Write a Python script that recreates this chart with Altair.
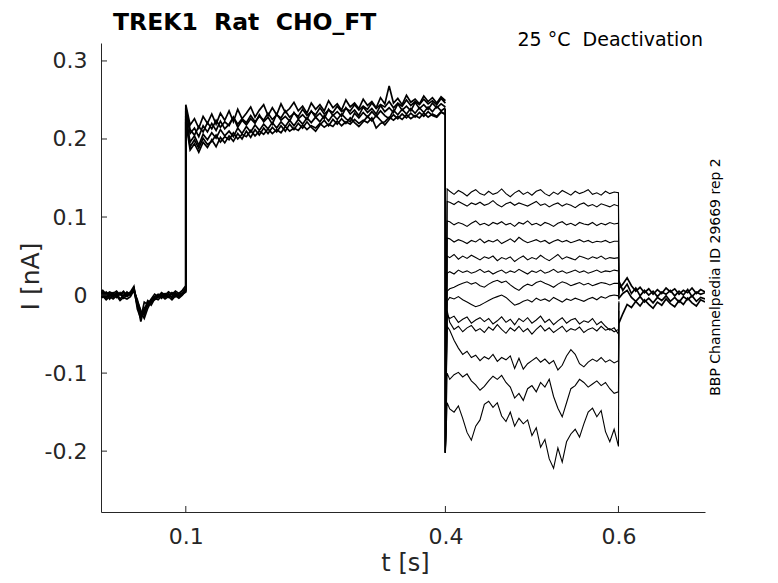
import altair as alt
import pandas as pd

# ---------------- data (current in pA, converted to nA below) ----------------
T_PRE = [round(0.004 * k, 4) for k in range(26)]            # 0 .. 0.1
T_ACT = [round(0.1 + 0.005 * k, 4) for k in range(61)]      # 0.1 .. 0.4
T_DEACT = [round(0.405 + 0.005 * k, 4) for k in range(39)]  # 0.405 .. 0.595
T_POST = [0.6005] + [round(0.605 + 0.005 * k, 4) for k in range(20)]  # .. 0.7

PRE = [
    [3, 6, 1, 4, 2, 5, 0, 3, 1, 4, 11, -18, -30, -9, -12, -5, 1, -2, 3, 0, 4, 1, 5, 2, 6, 12],
    [-4, -1, -6, -2, -5, -1, -7, -3, -5, -2, 6, -14, -25, -20, -7, -10, -4, -6, -1, -5, -2, -6, -1, -4, 0, 6],
    [0, -3, 2, -5, 1, -2, 3, -4, 0, 2, 9, -10, -34, -16, -14, -6, -2, 0, -4, 1, -3, 2, -2, 1, 3, 9],
    [1, 4, -2, 2, -1, 3, 1, 5, -1, 3, 7, -8, -20, -26, -11, -7, -3, 1, -1, 2, -2, 3, 0, 2, 1, 4],
    [2, -2, 4, 0, 3, -3, 2, -1, 4, 0, 8, -12, -28, -22, -9, -13, -5, -1, 2, -3, 1, -2, 3, -1, 2, 7],
    [-2, 2, -4, 1, -3, 2, -5, 0, -2, 1, 5, -6, -22, -30, -17, -8, -6, -3, 0, -2, 2, -4, 1, -3, 2, 5],
]

ACT = [
    [244, 218, 226, 214, 229, 220, 232, 219, 233, 224, 236, 222, 238, 226, 233, 241, 228, 237, 244, 230,
     240, 231, 245, 234, 239, 247, 236, 242, 233, 246, 238, 244, 236, 249, 240, 245, 237, 250, 241, 246,
     239, 251, 243, 248, 240, 253, 245, 268, 246, 252, 244, 256, 247, 251, 245, 255, 248, 253, 246, 254, 249],
    [236, 207, 214, 203, 217, 209, 220, 211, 223, 213, 219, 228, 215, 224, 218, 226, 220, 231, 222, 228,
     219, 232, 224, 229, 223, 234, 226, 231, 225, 236, 228, 233, 226, 238, 230, 235, 229, 240, 232, 237,
     230, 241, 234, 239, 232, 243, 235, 240, 234, 245, 237, 242, 236, 247, 239, 244, 238, 246, 240, 245, 241],
    [230, 196, 204, 192, 206, 199, 208, 201, 212, 204, 210, 203, 214, 207, 216, 209, 218, 211, 219, 213,
     221, 214, 222, 216, 224, 217, 225, 219, 227, 221, 228, 222, 230, 223, 231, 225, 232, 226, 222, 233,
     227, 234, 228, 235, 229, 236, 230, 226, 237, 231, 238, 232, 239, 233, 240, 234, 241, 235, 242, 236, 240],
    [222, 186, 194, 183, 196, 189, 199, 190, 202, 195, 204, 197, 207, 200, 210, 202, 212, 205, 214, 207,
     215, 209, 217, 210, 219, 212, 220, 214, 222, 215, 210, 218, 224, 217, 225, 219, 226, 220, 227, 221,
     216, 222, 229, 223, 230, 224, 218, 225, 231, 226, 232, 227, 233, 228, 234, 229, 235, 230, 228, 234, 232],
    [240, 212, 205, 216, 209, 221, 213, 224, 215, 222, 217, 228, 219, 226, 221, 230, 222, 229, 224, 233,
     225, 231, 227, 236, 228, 233, 229, 238, 230, 235, 231, 240, 232, 237, 234, 242, 235, 239, 236, 244,
     237, 242, 238, 246, 239, 244, 241, 248, 240, 246, 242, 250, 243, 248, 244, 251, 245, 249, 244, 252, 246],
    [226, 190, 199, 188, 201, 193, 197, 205, 196, 203, 199, 208, 200, 206, 203, 211, 204, 210, 206, 213,
     207, 212, 208, 216, 210, 214, 211, 218, 212, 217, 214, 220, 215, 219, 216, 223, 217, 222, 219, 225,
     220, 224, 221, 227, 214, 220, 222, 228, 224, 229, 225, 231, 226, 230, 227, 233, 228, 232, 229, 235, 231],
]

STEP_TOP = 238     # current just before the step to deactivation
STEP_SPIKE = -202  # capacitive spike at 0.4 s
DEACT_START = [136, 120, 95, 73, 50, 28, 5, -8, -25, -20, -40, -100, -138]
DEACT = [
    [133, 129, 134, 131, 127, 132, 135, 130, 128, 133, 129, 131, 136, 130, 126, 131, 134, 129, 132, 128,
     133, 135, 130, 127, 132, 129, 134, 131, 128, 133, 130, 132, 135, 129, 131, 128, 133, 130, 132],
    [119, 116, 120, 117, 114, 118, 116, 119, 115, 117, 121, 116, 113, 117, 119, 115, 118, 116, 114, 117,
     120, 115, 117, 113, 116, 118, 114, 117, 115, 112, 116, 118, 114, 116, 113, 117, 115, 113, 116],
    [94, 90, 93, 91, 88, 92, 95, 90, 92, 89, 93, 91, 94, 90, 92, 88, 93, 91, 95, 90,
     92, 89, 93, 91, 88, 92, 94, 90, 92, 89, 93, 91, 90, 93, 89, 92, 90, 93, 91],
    [72, 68, 71, 69, 66, 70, 68, 72, 67, 70, 68, 71, 66, 69, 72, 68, 74, 70, 67, 69,
     71, 68, 70, 66, 69, 71, 68, 70, 67, 69, 71, 68, 70, 67, 69, 68, 70, 67, 69],
    [48, 52, 46, 50, 47, 51, 48, 45, 49, 47, 50, 44, 48, 46, 49, 43, 47, 50, 45, 48,
     46, 51, 47, 44, 48, 52, 46, 49, 47, 45, 50, 48, 46, 49, 47, 50, 46, 48, 47],
    [30, 27, 32, 29, 31, 28, 30, 33, 29, 31, 27, 30, 32, 28, 31, 29, 33, 30, 27, 31,
     29, 32, 28, 30, 33, 29, 31, 28, 30, 32, 29, 31, 28, 30, 32, 29, 31, 30, 32],
    [8, 10, 13, 15, 17, 14, 16, 12, 10, 14, 17, 19, 16, 18, 13, 9, 6, 11, 14, 12,
     16, 18, 15, 13, 10, 14, 17, 15, 12, 14, 16, 13, 15, 12, 14, 16, 15, 13, 15],
    [-3, -5, -2, -6, -9, -12, -15, -13, -10, -7, -4, -2, 0, -3, -8, -13, -11, -8, -6, -9,
     -4, -7, -5, -8, -3, -6, -9, -5, -7, -4, -6, -8, -5, -3, -6, -2, -4, -1, 0],
    [-30, -27, -35, -31, -28, -36, -32, -29, -34, -30, -37, -33, -28, -35, -31, -38, -30, -34, -29, -36,
     -32, -27, -35, -31, -38, -33, -29, -36, -32, -30, -37, -33, -35, -30, -38, -34, -40, -45, -42],
    [-35, -44, -40, -47, -42, -39, -46, -43, -48, -41, -45, -38, -44, -49, -42, -46, -40, -47, -43, -50,
     -44, -39, -46, -42, -48, -44, -40, -47, -43, -45, -41, -48, -44, -42, -46, -40, -45, -43, -47],
    [-45, -58, -68, -76, -72, -80, -77, -84, -79, -82, -76, -85, -80, -83, -78, -94, -81, -95, -88, -84,
     -80, -86, -82, -88, -84, -96, -90, -78, -70, -76, -88, -92, -86, -82, -85, -80, -86, -83, -87],
    [-108, -102, -99, -105, -101, -110, -115, -122, -117, -110, -104, -108, -103, -112, -118, -132, -126, -135, -120, -116,
     -124, -112, -118, -108, -130, -145, -156, -138, -120, -116, -108, -112, -118, -114, -110, -116, -112, -120, -126],
    [-146, -150, -142, -158, -176, -186, -168, -160, -140, -136, -144, -138, -155, -162, -150, -168, -158, -165, -160, -180,
     -170, -195, -185, -210, -222, -196, -214, -188, -178, -172, -182, -165, -150, -145, -156, -148, -175, -188, -172],
]
DEACT_END = [131, 114, 92, 69, 48, 31, 15, -1, -50, -44, -84, -124, -194]
POST_START = [5, 3, 0, -2, 6, -4, 2, -6, -10, -8, -20, -30, -36]

POST = [
    [8, 14, 22, 12, 5, 10, 3, 8, 1, 7, 2, 9, 4, 8, 1, 6, 3, 9, 2, 7, 4],
    [-4, 2, 6, -3, -8, -2, -9, -4, -10, -3, -7, -1, -8, -3, -9, -2, -6, -1, -8, -3, -5],
    [-36, -24, -12, -16, -8, -14, -6, -12, -17, -9, -13, -5, -11, -15, -7, -12, -4, -10, -14, -6, -9],
    [18, 6, 14, 2, 9, -1, 6, 0, 5, -2, 4, 1, 6, -1, 5, 0, 7, -2, 4, 1, 3],
]

X_TICKS = [0.1, 0.4, 0.6]
Y_TICKS = [-0.2, -0.1, 0, 0.1, 0.2, 0.3]

TITLE = "TREK1\u00a0\u00a0Rat\u00a0\u00a0CHO_FT"
SUBTITLE = "25 °C\u00a0\u00a0Deactivation"
SIDE = "BBP Channelpedia ID 29669 rep 2"

# ---------------- build table ----------------
rows = []


def add(trace, group, ts, vs):
    for t, v in zip(ts, vs):
        rows.append({"trace": trace, "g": group, "t": t, "I": v / 1000.0, "i": len(rows)})


for k in range(len(PRE)):
    add(f"band{k}", "band", T_PRE + T_ACT, PRE[k] + ACT[k])
for k in range(len(DEACT)):
    ts = [0.4, 0.4, 0.402] + T_DEACT + [0.6, 0.6005]
    vs = [STEP_TOP, STEP_SPIKE, DEACT_START[k]] + DEACT[k] + [DEACT_END[k], POST_START[k]]
    add(f"deact{k}", "deact", ts, vs)
for k in range(len(POST)):
    add(f"post{k}", "band", T_POST, POST[k])

df = pd.DataFrame(rows)

W, H = 604, 469
AX = "#262626"
FONT = "DejaVu Sans"

xs = alt.Scale(domain=[0.002, 0.7], nice=False, zero=False)
ys = alt.Scale(domain=[-0.278, 0.323], nice=False, zero=False)

X_AXIS = alt.Axis(
    values=X_TICKS, title="t [s]", format=".1f", ticks=False, tickSize=0, grid=False,
    domainColor=AX, domainWidth=1, labelColor=AX, labelFont=FONT, labelFontSize=22,
    labelBaseline="alphabetic", labelPadding=31, labelFlush=False,
    titleColor=AX, titleFont=FONT, titleFontSize=24, titleFontWeight="normal",
    titleX=304, titleY=58, titleBaseline="alphabetic", titleAlign="center")
Y_AXIS = alt.Axis(
    values=Y_TICKS, title="I [nA]", ticks=False, tickSize=0, grid=False,
    labelExpr="datum.value == 0 ? '0' : (datum.value < 0 ? '-' + format(-datum.value, '.1f') : format(datum.value, '.1f'))",
    domainColor=AX, domainWidth=1, labelColor=AX, labelFont=FONT, labelFontSize=22,
    labelPadding=14, labelBaseline="middle", labelFlush=False,
    titleColor=AX, titleFont=FONT, titleFontSize=25, titleFontWeight="normal",
    titleX=-71, titleY=233, titleAngle=270, titleBaseline="middle", titleAlign="center")

base = alt.Chart(df)

deact_lines = base.transform_filter(alt.datum.g == "deact").mark_line(
    color="black", strokeWidth=1.1, clip=True
).encode(
    x=alt.X("t:Q", scale=xs, axis=X_AXIS),
    y=alt.Y("I:Q", scale=ys, axis=Y_AXIS),
    detail="trace:N",
    order="i:Q",
)

band_lines = base.transform_filter(alt.datum.g == "band").mark_line(
    color="black", strokeWidth=1.7, clip=True
).encode(
    x=alt.X("t:Q", scale=xs, axis=X_AXIS),
    y=alt.Y("I:Q", scale=ys, axis=Y_AXIS),
    detail="trace:N",
    order="i:Q",
)

ytick_df = pd.DataFrame({"I": Y_TICKS})
xtick_df = pd.DataFrame({"t": X_TICKS})

yticks = alt.Chart(ytick_df).mark_rule(color=AX, strokeWidth=1).encode(
    y=alt.Y("I:Q", scale=ys, axis=Y_AXIS), x=alt.value(0), x2=alt.value(6)
)
xticks = alt.Chart(xtick_df).mark_rule(color=AX, strokeWidth=1).encode(
    x=alt.X("t:Q", scale=xs, axis=X_AXIS), y=alt.value(H), y2=alt.value(H - 6)
)

title = alt.Chart(pd.DataFrame({"s": [TITLE]})).mark_text(
    font=FONT, fontSize=23.5, fontWeight="bold", color="black", align="left", baseline="alphabetic"
).encode(text="s:N", x=alt.value(12), y=alt.value(-13))

sub = alt.Chart(pd.DataFrame({"s": [SUBTITLE]})).mark_text(
    font=FONT, fontSize=19, color="black", align="right", baseline="alphabetic"
).encode(text="s:N", x=alt.value(602), y=alt.value(3))

side = alt.Chart(pd.DataFrame({"s": [SIDE]})).mark_text(
    font=FONT, fontSize=14, color="black", align="center", baseline="middle", angle=270
).encode(text="s:N", x=alt.value(615), y=alt.value(234))

chart = alt.layer(deact_lines, band_lines, yticks, xticks, title, sub, side).properties(
    width=W,
    height=H,
    autosize=alt.AutoSizeParams(type="none"),
    padding={"left": 93, "top": 35, "right": 60, "bottom": 63},
    background="white",
).configure_view(stroke=None)

chart.save("out.html", embed_options={"renderer": "svg", "actions": False})
